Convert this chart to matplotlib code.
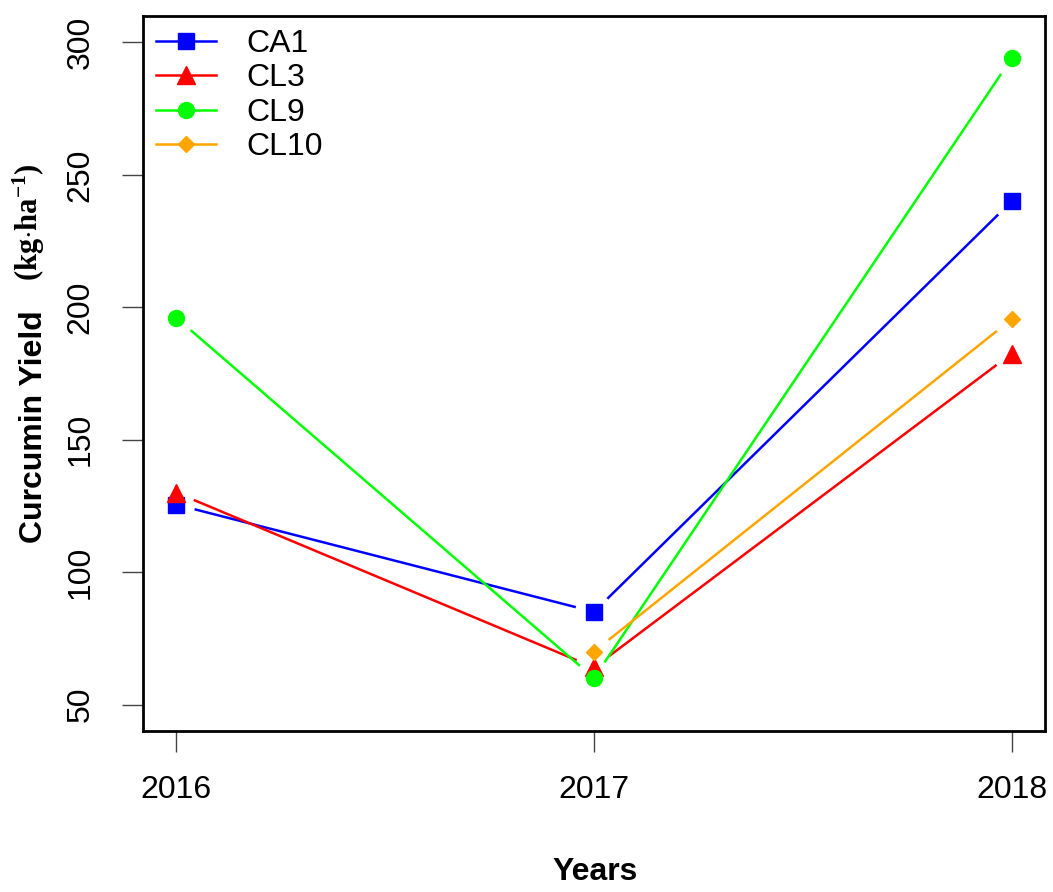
import numpy as np
import matplotlib
matplotlib.use("Agg")
import matplotlib.pyplot as plt

plt.rcParams['font.family'] = ['Liberation Sans', 'DejaVu Sans']
plt.rcParams['mathtext.fontset'] = 'custom'
plt.rcParams['mathtext.rm'] = 'Liberation Serif:bold'
plt.rcParams['mathtext.bf'] = 'Liberation Serif:bold'
plt.rcParams['mathtext.it'] = 'Liberation Serif:bold'

years = [2016, 2017, 2018]
ca1 = [125.5, 85, 240]
cl3 = [130, 64, 182.5]
cl9 = [196, 60, 294]
cl10 = [np.nan, 70, 195.5]

series = [
    ("CA1", ca1, "#0000ff", "s", 11),
    ("CL3", cl3, "#ff0000", "^", 13),
    ("CL9", cl9, "#00ff00", "o", 11.5),
    ("CL10", cl10, "#ffa500", "D", 8),
]

W, H = 1053, 892
fig = plt.figure(figsize=(W / 100, H / 100), dpi=100)
ax = fig.add_axes([143 / W, 1 - 731 / H, (1045 - 143) / W, (731 - 16) / H])
ax.set_xlim(2015.92, 2018.08)
ax.set_ylim(40, 310)

GAP = 20  # px gap between line ends and point centres (R type="b")


def gapped_segments(xs, ys):
    pts = ax.transData.transform(np.column_stack([xs, ys]))
    segs = []
    for a, b in zip(pts[:-1], pts[1:]):
        if np.any(np.isnan(a)) or np.any(np.isnan(b)):
            continue
        d = b - a
        n = np.hypot(*d)
        if n <= 2 * GAP:
            continue
        u = d / n
        p0 = ax.transData.inverted().transform(a + u * GAP)
        p1 = ax.transData.inverted().transform(b - u * GAP)
        segs.append((p0, p1))
    return segs


for name, vals, col, mk, ms in series:
    for p0, p1 in gapped_segments(years, vals):
        ax.plot([p0[0], p1[0]], [p0[1], p1[1]], color=col, lw=1.8)
    ax.plot(years, vals, linestyle="none", marker=mk, markersize=ms, color=col)
    ax.plot([], [], color=col, lw=1.8, marker=mk, markersize=ms, label=name)

for sp in ax.spines.values():
    sp.set_linewidth(2)

ax.set_xticks(years)
ax.set_xticklabels([str(y) for y in years])
ax.set_yticks([50, 100, 150, 200, 250, 300])
ax.tick_params(axis="both", length=15, width=1, color="#444444", labelsize=23, direction="out")
ax.tick_params(axis="x", pad=17)
ax.tick_params(axis="y", pad=19)
for lab in ax.get_yticklabels():
    lab.set_rotation(90)
    lab.set_va("center")

leg = ax.legend(loc="upper left", bbox_to_anchor=(0.0, 1.0), frameon=False,
                fontsize=23, handlelength=1.9, handletextpad=0.95,
                labelspacing=0.14, borderaxespad=0.4, borderpad=0.0)

fig.text(595 / W, 1 - 872 / H, "Years", ha="center", va="center",
         fontsize=23, fontweight="bold")
fig.text(42 / W, 1 - 543 / H, "Curcumin Yield", rotation=90, rotation_mode="anchor",
         ha="left", va="baseline", fontsize=23, fontweight="bold")
fig.text(38 / W, 1 - 281 / H, r"(kg$\cdot$ha$^{-1}$)", rotation=90,
         rotation_mode="anchor", ha="left", va="baseline", fontsize=22,
         fontweight="bold", family="Liberation Serif")

fig.savefig("out.png", dpi=100)
